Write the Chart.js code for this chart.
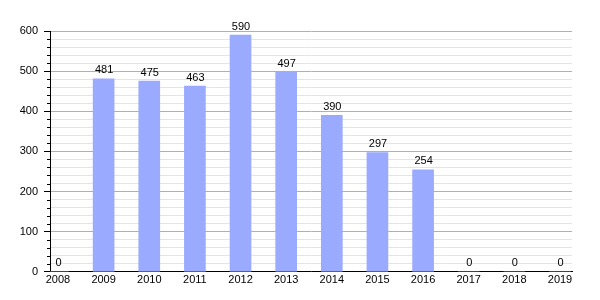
<!DOCTYPE html>
<html><head><meta charset="utf-8">
<script src="https://cdn.jsdelivr.net/npm/chart.js@4"></script>
<style>html,body{margin:0;padding:0;background:#fff}#wrap{width:600px;height:300px}</style>
</head><body><div id="wrap"><canvas id="c" width="600" height="300"></canvas></div>
<script>
const years = [2008,2009,2010,2011,2012,2013,2014,2015,2016,2017,2018,2019];
const values = [0,481,475,463,590,497,390,297,254,0,0,0];
const yTicks = [0,100,200,300,400,500,600];

const labelPlugin = {
  id: 'labels',
  afterDatasetsDraw(chart) {
    const ctx = chart.ctx;
    const xs = chart.scales.x, ys = chart.scales.y;
    ctx.save();
    ctx.font = '11px "Liberation Sans", Arial, sans-serif';
    ctx.fillStyle = '#000';
    ctx.textAlign = 'center';
    ctx.textBaseline = 'bottom';
    years.forEach((yr, i) => {
      ctx.fillText(String(values[i]), xs.getPixelForValue(yr) + 0.5, ys.getPixelForValue(values[i]) - 3);
    });
    // minor ticks
    ctx.strokeStyle = '#000';
    ctx.lineWidth = 1;
    for (let v = 0; v <= 600; v += 20) {
      if (v % 100 === 0) continue;
      const py = Math.round(ys.getPixelForValue(v)) + 0.5;
      ctx.beginPath();
      ctx.moveTo(xs.left - 3, py);
      ctx.lineTo(xs.left, py);
      ctx.stroke();
    }
    ctx.restore();
  }
};

new Chart(document.getElementById('c'), {
  type: 'bar',
  data: {
    datasets: [{
      data: years.map((y, i) => ({x: y, y: values[i]})),
      backgroundColor: '#99aaff',
      borderWidth: 0,
      barThickness: 21
    }]
  },
  options: {
    responsive: false,
    animation: false,
    layout: {padding: {top: 31, right: 28, left: 8, bottom: 11}},
    plugins: {legend: {display: false}, tooltip: {enabled: false}},
    scales: {
      x: {
        type: 'linear',
        min: 2007.825,
        max: 2019.263,
        offset: false,
        grid: {display: false, drawTicks: false},
        border: {display: true, color: '#000', width: 1},
        ticks: {
          stepSize: 1,
          autoSkip: false,
          maxRotation: 0,
          padding: 2,
          color: '#000',
          font: {family: '"Liberation Sans", Arial, sans-serif', size: 11},
          callback: v => years.includes(v) ? String(v) : ''
        },
        afterBuildTicks: s => { s.ticks = years.map(v => ({value: v})); }
      },
      y: {
        min: 0,
        max: 600,
        grid: {
          color: ctx => (ctx.tick && ctx.tick.value % 100 === 0) ? '#b0b0b0' : '#e4e4e4',
          tickColor: ctx => (ctx.tick && ctx.tick.value % 100 === 0) ? '#000' : 'rgba(0,0,0,0)',
          tickLength: 6,
          lineWidth: 1
        },
        border: {display: true, color: '#000', width: 1},
        ticks: {
          stepSize: 20,
          autoSkip: false,
          padding: 6,
          color: '#000',
          font: {family: '"Liberation Sans", Arial, sans-serif', size: 11},
          callback: v => yTicks.includes(v) ? String(v) : ''
        },
        afterFit: s => { s.width = 42; }
      }
    }
  },
  plugins: [labelPlugin]
});
</script></body></html>
